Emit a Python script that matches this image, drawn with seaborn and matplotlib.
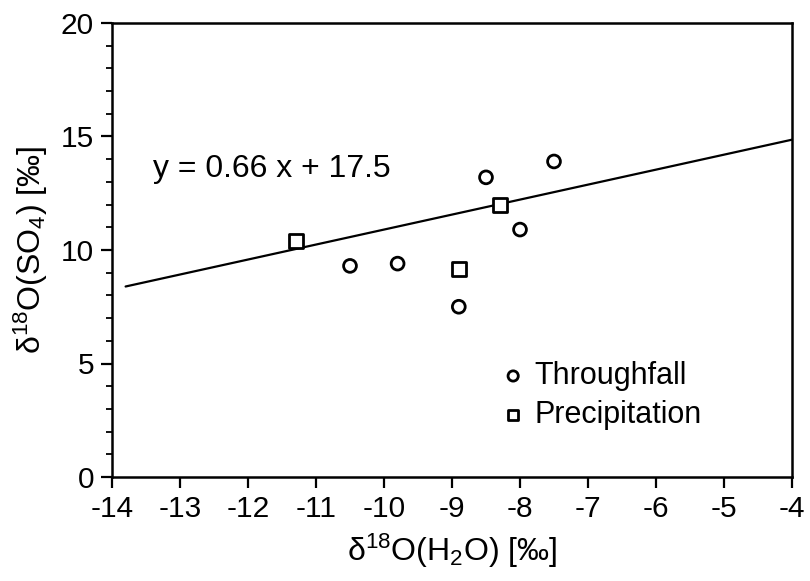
import matplotlib
matplotlib.use("Agg")
import matplotlib.pyplot as plt
from matplotlib.ticker import MultipleLocator
import seaborn as sns
import pandas as pd

# data
through_x = [-10.5, -9.8, -8.9, -8.5, -8.0, -7.5]
through_y = [9.3, 9.4, 7.5, 13.2, 10.9, 13.9]
precip_x = [-11.3, -8.9, -8.3]
precip_y = [10.4, 9.15, 12.0]
fit_slope = 0.66
fit_intercept = 17.5
fit_x = [-13.8, -4.0]
x_ticks = list(range(-14, -3))
y_ticks = [0, 5, 10, 15, 20]

sns.set_theme(style="ticks")
plt.rcParams['font.family'] = ['Liberation Sans', 'DejaVu Sans']
plt.rcParams['mathtext.fontset'] = 'custom'
plt.rcParams['mathtext.rm'] = 'Liberation Sans'
plt.rcParams['mathtext.it'] = 'Liberation Sans:italic'
plt.rcParams['mathtext.bf'] = 'Liberation Sans:bold'
for k in ['text.color', 'axes.labelcolor', 'xtick.color', 'ytick.color', 'axes.edgecolor']:
    plt.rcParams[k] = 'black'

fig = plt.figure(figsize=(8.1, 5.81), dpi=100)
ax = fig.add_axes([112/810, 1-477/581, 680/810, 454/581])

df_t = pd.DataFrame({"x": through_x, "y": through_y})
df_p = pd.DataFrame({"x": precip_x, "y": precip_y})
fit_df = pd.DataFrame({"x": fit_x, "y": [fit_slope*v + fit_intercept for v in fit_x]})

sns.lineplot(data=fit_df, x="x", y="y", ax=ax, color="black", linewidth=1.6)
sns.scatterplot(data=df_t, x="x", y="y", ax=ax, marker="o", s=85,
                facecolor="none", edgecolor="black", linewidth=2.0,
                label="Throughfall", zorder=3)
sns.scatterplot(data=df_p, x="x", y="y", ax=ax, marker="s", s=95,
                facecolor="white", edgecolor="black", linewidth=2.0,
                label="Precipitation", zorder=3)

ax.set_xlim(-14, -4)
ax.set_ylim(0, 20)
ax.set_xticks(x_ticks)
ax.set_xticklabels([str(v) for v in x_ticks])
ax.set_yticks(y_ticks)
ax.yaxis.set_minor_locator(MultipleLocator(1))
ax.tick_params(axis='both', which='major', labelsize=21.5, width=1.6,
               length=8, direction='out', pad=5)
ax.tick_params(axis='y', which='minor', width=1.3, length=4.5, direction='out')
for sp in ax.spines.values():
    sp.set_visible(True)
    sp.set_linewidth(1.8)

ax.set_xlabel('δ$^{18}$O(H$_2$O) [‰]', fontsize=23, labelpad=6)
ax.set_ylabel('δ$^{18}$O(SO$_4$) [‰]', fontsize=23, labelpad=8)

ax.text(-13.40, 13.57, 'y = 0.66 x + 17.5', fontsize=23, va='center', ha='left')

leg = ax.legend(loc='center left', bbox_to_anchor=(0.554, 0.18), frameon=False,
                fontsize=22, handlelength=0.8, handletextpad=0.3,
                labelspacing=0.28, markerscale=0.8, borderaxespad=0)

fig.savefig("out.png", dpi=100)
